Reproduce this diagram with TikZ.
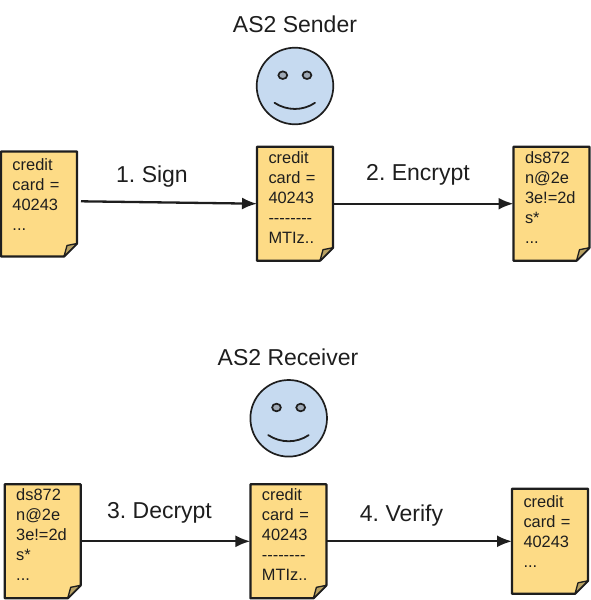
\documentclass[tikz,border=0pt]{standalone}
\usepackage{fontspec}
\setmainfont{Liberation Sans}
\usetikzlibrary{arrows.meta,backgrounds}
\definecolor{docyellow}{HTML}{FDDB86}
\definecolor{docfold}{HTML}{B9A263}
\definecolor{faceblue}{HTML}{C6DAF0}
\definecolor{eyegray}{HTML}{9FA9B5}
\definecolor{inkdark}{HTML}{1E1E1E}
\newcommand{\dashrow}{-{}-{}-{}-{}-{}-{}-{}-}
\tikzset{
  docnote/.style={inner sep=0pt, outer sep=0pt, inner xsep=11.5pt, text width=53pt, align=left,
    minimum width=76pt, text=inkdark, text height=12pt, font=\frenchspacing\fontsize{16.4}{20}\selectfont},
  shortdoc/.style={docnote, minimum height=105pt, text depth=80pt},
  longdoc/.style={docnote, minimum height=114pt, text depth=93.4pt},
  docshape/.style={draw=inkdark, fill=docyellow, line width=2.2pt, line join=round},
  foldshape/.style={draw=inkdark, fill=docfold, line width=1.3pt, line join=round},
  facenode/.style={circle, draw=inkdark, fill=faceblue, line width=1.7pt, minimum size=76.6pt, inner sep=0pt},
  stepname/.style={anchor=base, text=inkdark, font=\frenchspacing\fontsize{23}{26}\selectfont},
  flow/.style={-{Latex[length=15pt,width=12pt]}, draw=inkdark, line width=2.3pt}
}
\begin{document}
\begin{tikzpicture}[x=1pt,y=-1pt]
  \useasboundingbox (0,0) rectangle (591,600);
  % senders side
  \node[stepname] (sendername) at (295,32.7) {AS2 Sender};
  \node[facenode] (sender) at (295,86) {};
  \node[shortdoc] (plain) at (39,204) {credit\\card =\\40243\\...};
  \node[longdoc] (signed) at (295,203.7) {credit\\card =\\40243\\\dashrow\\MTIz..};
  \node[longdoc] (crypted) at (551.5,203.7) {ds872\\n@2e\\3e!=2d\\s*\\...};
  % receivers side
  \node[stepname] (receivername) at (288,365) {AS2 Receiver};
  \node[facenode] (receiver) at (288.7,418.3) {};
  \node[longdoc] (incoming) at (42.7,541.3) {ds872\\n@2e\\3e!=2d\\s*\\...};
  \node[longdoc] (decrypted) at (288.4,541.3) {credit\\card =\\40243\\\dashrow\\MTIz..};
  \node[shortdoc] (verified) at (550,541.3) {credit\\card =\\40243\\...};
  % step labels
  \node[stepname] (signlabel) at (152,182.7) {1. Sign};
  \node[stepname] (encryptlabel) at (418,180) {2. Encrypt};
  \node[stepname] (decryptlabel) at (159.5,518) {3. Decrypt};
  \node[stepname] (verifylabel) at (401.5,521.7) {4. Verify};
  % paper outlines
  \begin{scope}[on background layer]
    \foreach \n in {plain,signed,crypted,incoming,decrypted,verified} {
      \draw[docshape] (\n.north west) -- (\n.north east) -- ([yshift=13pt]\n.south east)
        -- ([xshift=-13pt]\n.south east) -- (\n.south west) -- cycle;
      \draw[foldshape] ([yshift=13pt]\n.south east) -- ([xshift=-10pt,yshift=11pt]\n.south east)
        -- ([xshift=-13pt]\n.south east) -- cycle;
    }
  \end{scope}
  % faces
  \foreach \n in {sender,receiver} {
    \draw[fill=eyegray, draw=inkdark, line width=1.7pt] ([shift={(-12.2pt,10.8pt)}]\n.center) circle[x radius=4.4pt, y radius=3.8pt];
    \draw[fill=eyegray, draw=inkdark, line width=1.7pt] ([shift={(12pt,10.8pt)}]\n.center) circle[x radius=4.4pt, y radius=3.8pt];
    \draw[draw=inkdark, line width=1.8pt, line cap=round] ([shift={(-20.5pt,-16.8pt)}]\n.center)
      .. controls ([shift={(-8pt,-25pt)}]\n.center) and ([shift={(8pt,-25pt)}]\n.center) .. ([shift={(20pt,-16.8pt)}]\n.center);
  }
  % steps
  \draw[flow] ([xshift=4pt,yshift=2.7pt]plain.east) -- (signed.west);
  \draw[flow] (signed.east) -- (crypted.west);
  \draw[flow] (incoming.east) -- (decrypted.west);
  \draw[flow] (decrypted.east) -- (verified.west);
\end{tikzpicture}
\end{document}
